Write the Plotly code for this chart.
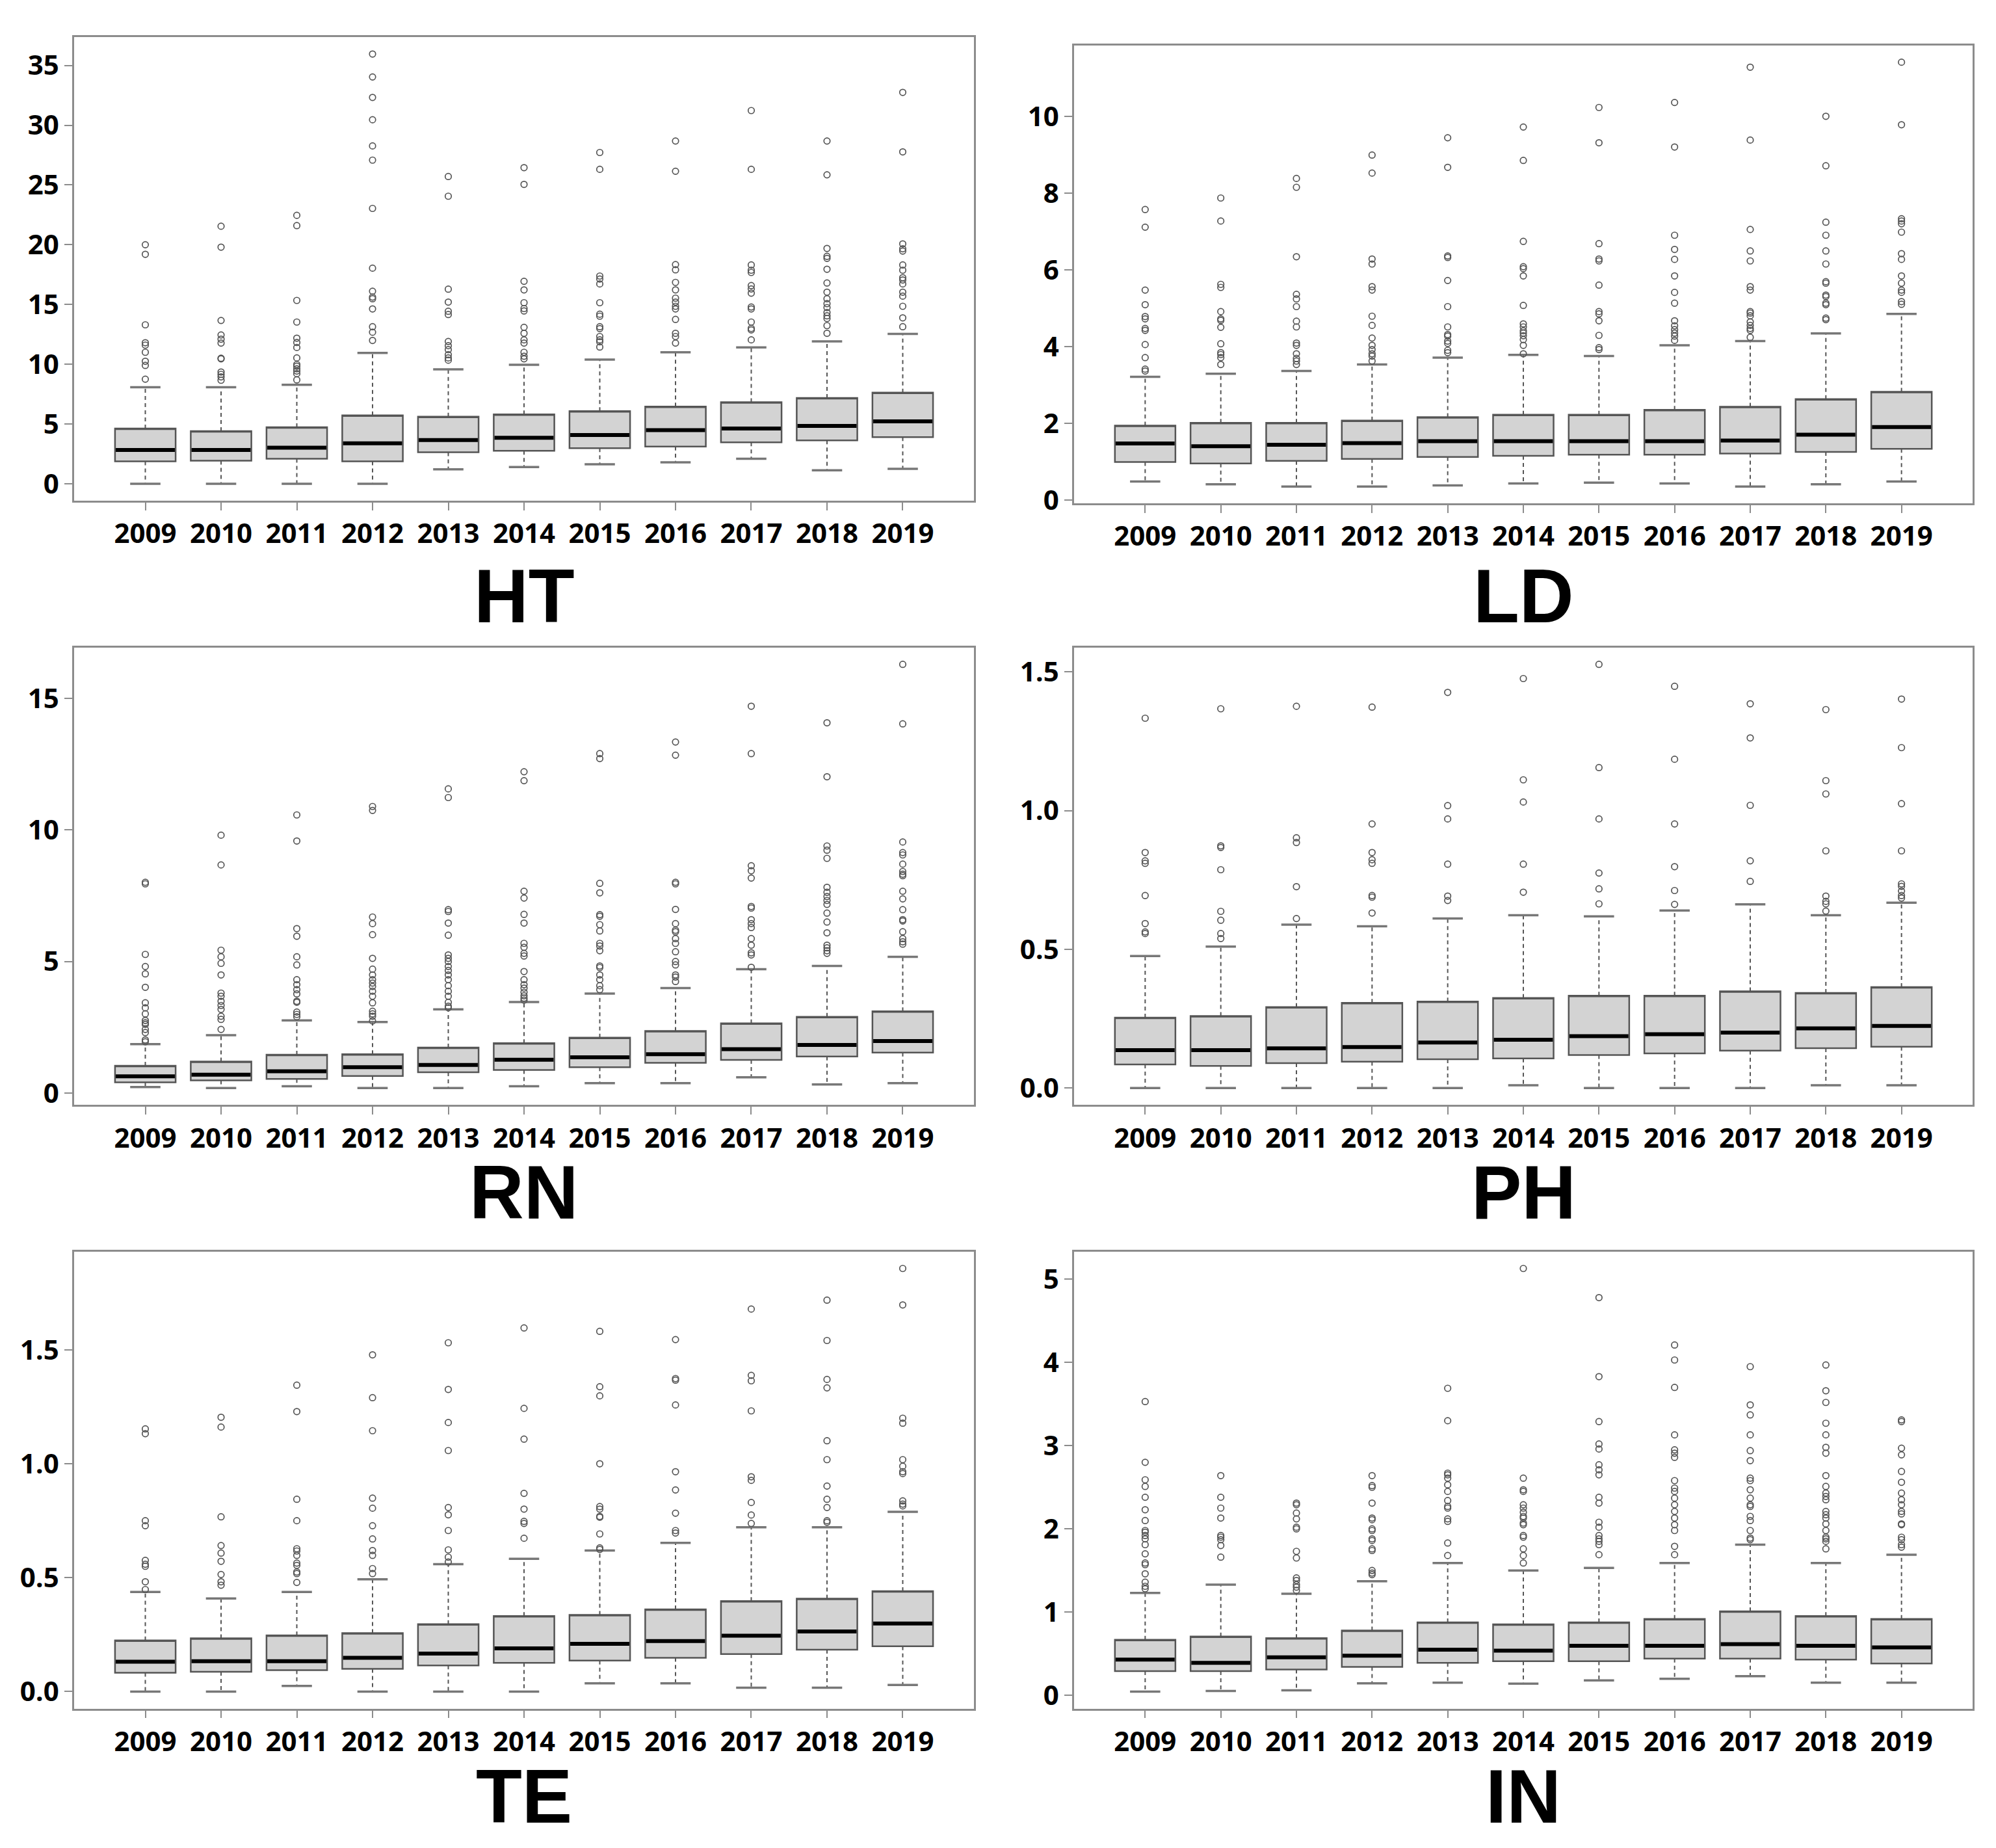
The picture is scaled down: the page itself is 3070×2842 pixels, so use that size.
import plotly.graph_objects as go

years = list(range(2009, 2020))

# ---------------- HT ----------------
ht_q1 = [1.87, 1.92, 2.09, 1.87, 2.64, 2.75, 2.97, 3.11, 3.46, 3.63, 3.90]
ht_med = [2.83, 2.83, 3.02, 3.38, 3.66, 3.85, 4.07, 4.48, 4.62, 4.84, 5.22]
ht_q3 = [4.62, 4.40, 4.73, 5.72, 5.61, 5.80, 6.08, 6.46, 6.82, 7.18, 7.62]
ht_lo = [0, 0, 0, 0, 1.21, 1.40, 1.62, 1.79, 2.09, 1.13, 1.24]
ht_hi = [8.08, 8.08, 8.28, 10.94, 9.57, 9.95, 10.39, 11.0, 11.41, 11.91, 12.54]
ht_out = [
    [20.0, 19.2, 13.3, 11.8, 11.6, 11.0, 10.25, 9.9, 8.75],
    [21.55, 19.8, 13.66, 12.45, 12.1, 11.77, 10.5, 10.45, 9.35, 9.15, 8.94, 8.66],
    [22.46, 21.6, 15.34, 13.53, 12.18, 11.82, 11.4, 10.53, 9.98, 9.84, 9.62, 9.43, 9.21, 8.69],
    [35.96, 34.04, 32.33, 30.46, 28.27, 27.08, 23.04, 18.04, 16.11, 15.62, 15.48, 14.63, 13.14, 12.68, 11.99],
    [25.71, 24.06, 16.28, 15.2, 14.43, 14.16, 11.9, 11.55, 11.22, 10.8, 10.53, 10.34],
    [26.45, 25.05, 16.94, 16.22, 15.15, 14.66, 14.46, 13.09, 12.59, 12.04, 11.77, 11.0, 10.67, 10.45],
    [27.72, 26.31, 17.38, 17.13, 16.72, 15.15, 14.19, 14.02, 13.14, 12.98, 12.32, 12.04, 11.88, 11.44],
    [28.68, 26.15, 18.34, 17.9, 16.85, 16.22, 15.53, 15.2, 14.85, 14.63, 13.75, 12.59, 12.32, 11.77],
    [31.23, 26.31, 18.31, 17.87, 17.68, 16.58, 16.3, 15.95, 14.79, 14.63, 13.53, 13.0, 12.87, 12.04],
    [28.68, 25.85, 19.69, 19.03, 18.86, 17.95, 16.8, 16.03, 15.48, 15.07, 14.74, 14.33, 14.05, 13.83, 13.23, 12.59],
    [32.75, 27.77, 20.07, 19.66, 19.47, 18.31, 17.87, 17.24, 17.05, 16.72, 16.03, 15.7, 14.85, 13.88, 13.14],
]

# ---------------- LD ----------------
ld_q1 = [0.99, 0.95, 1.02, 1.07, 1.12, 1.15, 1.18, 1.18, 1.21, 1.25, 1.33]
ld_med = [1.47, 1.40, 1.44, 1.48, 1.53, 1.53, 1.53, 1.53, 1.55, 1.70, 1.90]
ld_q3 = [1.94, 2.01, 2.01, 2.07, 2.16, 2.22, 2.22, 2.35, 2.43, 2.63, 2.82]
ld_lo = [0.48, 0.41, 0.35, 0.35, 0.38, 0.43, 0.45, 0.43, 0.35, 0.41, 0.48]
ld_hi = [3.21, 3.29, 3.36, 3.53, 3.71, 3.78, 3.75, 4.03, 4.14, 4.34, 4.85]
ld_out = [
    [7.57, 7.11, 5.47, 5.09, 4.78, 4.72, 4.47, 4.42, 4.05, 3.71, 3.41, 3.36],
    [7.87, 7.27, 5.62, 5.54, 4.91, 4.72, 4.68, 4.5, 4.07, 3.84, 3.79, 3.71, 3.53],
    [8.38, 8.15, 6.34, 5.36, 5.24, 5.04, 4.66, 4.51, 4.09, 4.03, 3.81, 3.69, 3.62, 3.53],
    [8.99, 8.52, 6.28, 6.15, 5.56, 5.47, 4.79, 4.55, 4.22, 4.03, 3.92, 3.81, 3.75, 3.62],
    [9.44, 8.67, 6.36, 6.32, 5.72, 5.04, 4.51, 4.31, 4.27, 4.14, 4.08, 3.9, 3.84],
    [9.72, 8.85, 6.74, 6.08, 6.03, 5.84, 5.07, 4.59, 4.51, 4.41, 4.35, 4.28, 4.18, 4.03, 3.81],
    [10.23, 9.31, 6.68, 6.28, 6.23, 5.6, 4.91, 4.85, 4.67, 4.29, 3.97, 3.92],
    [10.36, 9.2, 6.9, 6.53, 6.27, 5.84, 5.41, 5.13, 4.67, 4.54, 4.44, 4.35, 4.27, 4.16],
    [11.28, 9.38, 7.05, 6.49, 6.23, 5.56, 5.47, 4.91, 4.87, 4.8, 4.64, 4.55, 4.47, 4.42, 4.24],
    [10.0, 8.71, 7.24, 6.9, 6.49, 6.15, 5.69, 5.65, 5.34, 5.3, 5.13, 5.09, 4.74, 4.7],
    [11.41, 9.78, 7.33, 7.27, 7.2, 6.98, 6.42, 6.27, 5.84, 5.65, 5.47, 5.41, 5.17, 5.1],
]

# ---------------- RN ----------------
rn_q1 = [0.41, 0.48, 0.54, 0.65, 0.79, 0.88, 0.98, 1.15, 1.26, 1.39, 1.54]
rn_med = [0.64, 0.70, 0.83, 0.98, 1.07, 1.27, 1.36, 1.48, 1.67, 1.83, 1.98]
rn_q3 = [1.04, 1.20, 1.46, 1.48, 1.73, 1.90, 2.11, 2.36, 2.65, 2.90, 3.11]
rn_lo = [0.23, 0.19, 0.26, 0.19, 0.19, 0.26, 0.38, 0.38, 0.60, 0.33, 0.38]
rn_hi = [1.86, 2.20, 2.76, 2.70, 3.18, 3.46, 3.78, 3.99, 4.71, 4.83, 5.18]
rn_out = [
    [8.01, 7.95, 5.27, 4.81, 4.53, 4.02, 3.43, 3.24, 3.01, 2.76, 2.67, 2.61, 2.42, 2.3, 2.02, 1.95],
    [9.8, 8.67, 5.43, 5.18, 4.93, 4.49, 3.8, 3.68, 3.49, 3.33, 3.18, 2.92, 2.8, 2.42],
    [10.57, 9.58, 6.25, 5.96, 5.18, 4.87, 4.31, 4.12, 3.93, 3.77, 3.49, 3.45, 3.08, 2.99, 2.9],
    [10.89, 10.74, 6.69, 6.44, 6.02, 5.12, 4.71, 4.49, 4.31, 4.18, 4.05, 3.87, 3.68, 3.43, 3.11, 3.01, 2.92, 2.74],
    [11.56, 11.23, 6.97, 6.9, 6.46, 6.0, 5.25, 5.12, 5.0, 4.81, 4.66, 4.49, 4.31, 4.08, 3.87, 3.68, 3.45, 3.3, 3.24],
    [12.21, 11.87, 7.67, 7.41, 6.79, 6.46, 5.69, 5.54, 5.31, 5.21, 4.62, 4.31, 4.12, 3.99, 3.83, 3.7, 3.61, 3.53],
    [12.9, 12.71, 7.97, 7.61, 6.78, 6.72, 6.4, 6.16, 5.69, 5.59, 5.41, 4.83, 4.77, 4.49, 4.31, 4.08, 3.93],
    [13.34, 12.84, 8.01, 7.95, 6.98, 6.44, 6.19, 6.13, 5.87, 5.69, 5.37, 5.0, 4.87, 4.49, 4.41, 4.24],
    [14.7, 12.9, 8.64, 8.45, 8.17, 7.09, 7.03, 6.59, 6.44, 6.29, 5.87, 5.62, 5.33, 5.25, 4.78],
    [14.07, 12.02, 9.39, 9.23, 8.92, 7.82, 7.63, 7.47, 7.32, 7.17, 6.84, 6.5, 6.09, 5.62, 5.52, 5.41, 5.31],
    [16.29, 14.03, 9.54, 9.14, 9.05, 8.7, 8.42, 8.32, 8.26, 7.67, 7.38, 6.97, 6.59, 6.54, 6.13, 5.87, 5.75, 5.66],
]

# ---------------- PH ----------------
ph_q1 = [0.085, 0.080, 0.090, 0.095, 0.104, 0.107, 0.119, 0.125, 0.135, 0.144, 0.149]
ph_med = [0.137, 0.137, 0.143, 0.148, 0.164, 0.174, 0.187, 0.194, 0.200, 0.215, 0.224]
ph_q3 = [0.254, 0.260, 0.292, 0.307, 0.312, 0.325, 0.333, 0.333, 0.349, 0.343, 0.364]
ph_lo = [0, 0, 0, 0, 0, 0.01, 0, 0, 0, 0.01, 0.01]
ph_hi = [0.476, 0.510, 0.589, 0.583, 0.611, 0.623, 0.619, 0.640, 0.662, 0.623, 0.668]
ph_out = [
    [1.333, 0.849, 0.819, 0.81, 0.694, 0.593, 0.563, 0.557],
    [1.367, 0.873, 0.867, 0.787, 0.637, 0.605, 0.557, 0.539],
    [1.376, 0.902, 0.885, 0.726, 0.611],
    [1.373, 0.952, 0.849, 0.823, 0.81, 0.694, 0.688, 0.631],
    [1.426, 1.018, 0.970, 0.807, 0.692, 0.676],
    [1.476, 1.111, 1.031, 0.807, 0.706],
    [1.527, 1.155, 0.970, 0.775, 0.718, 0.664],
    [1.448, 1.185, 0.952, 0.798, 0.712, 0.662],
    [1.385, 1.262, 1.019, 0.819, 0.745],
    [1.364, 1.108, 1.06, 0.855, 0.692, 0.673, 0.664, 0.638],
    [1.402, 1.227, 1.025, 0.855, 0.736, 0.727, 0.71, 0.694, 0.685],
]

# ---------------- TE ----------------
te_q1 = [0.083, 0.087, 0.094, 0.100, 0.115, 0.126, 0.136, 0.148, 0.165, 0.184, 0.199]
te_med = [0.131, 0.133, 0.133, 0.148, 0.167, 0.190, 0.210, 0.222, 0.245, 0.264, 0.299]
te_q3 = [0.225, 0.234, 0.247, 0.257, 0.296, 0.332, 0.337, 0.361, 0.397, 0.408, 0.441]
te_lo = [0, 0, 0.025, 0, 0, 0, 0.036, 0.036, 0.017, 0.017, 0.029]
te_hi = [0.437, 0.409, 0.437, 0.493, 0.559, 0.583, 0.619, 0.653, 0.721, 0.721, 0.789]
te_out = [
    [1.153, 1.132, 0.75, 0.728, 0.576, 0.559, 0.55, 0.482, 0.448],
    [1.204, 1.161, 0.767, 0.641, 0.608, 0.572, 0.514, 0.482, 0.467],
    [1.345, 1.229, 0.844, 0.75, 0.627, 0.617, 0.598, 0.564, 0.554, 0.525, 0.518, 0.479],
    [1.478, 1.29, 1.145, 0.849, 0.805, 0.728, 0.67, 0.619, 0.598, 0.54, 0.518],
    [1.531, 1.326, 1.181, 1.058, 0.808, 0.776, 0.707, 0.622, 0.59, 0.569],
    [1.596, 1.243, 1.108, 0.87, 0.801, 0.747, 0.738, 0.673],
    [1.581, 1.338, 1.298, 1.0, 0.812, 0.801, 0.769, 0.765, 0.692, 0.631, 0.624],
    [1.545, 1.374, 1.367, 1.258, 0.965, 0.885, 0.783, 0.707, 0.696],
    [1.679, 1.388, 1.364, 1.232, 0.943, 0.927, 0.83, 0.775, 0.738],
    [1.718, 1.541, 1.37, 1.333, 1.101, 1.018, 0.902, 0.844, 0.808, 0.75, 0.743],
    [1.857, 1.697, 1.2, 1.178, 1.018, 0.989, 0.965, 0.957, 0.837, 0.823, 0.815],
]

# ---------------- IN ----------------
in_q1 = [0.29, 0.29, 0.31, 0.341, 0.389, 0.409, 0.409, 0.44, 0.44, 0.429, 0.381]
in_med = [0.429, 0.389, 0.456, 0.476, 0.548, 0.536, 0.595, 0.595, 0.615, 0.595, 0.575]
in_q3 = [0.667, 0.706, 0.687, 0.778, 0.877, 0.853, 0.877, 0.917, 1.01, 0.952, 0.917]
in_lo = [0.044, 0.052, 0.06, 0.143, 0.151, 0.139, 0.179, 0.198, 0.23, 0.151, 0.151]
in_hi = [1.23, 1.33, 1.22, 1.37, 1.59, 1.50, 1.53, 1.59, 1.81, 1.59, 1.69]
in_out = [
    [3.53, 2.8, 2.59, 2.51, 2.38, 2.23, 2.1, 1.98, 1.96, 1.92, 1.88, 1.81, 1.7, 1.59, 1.57, 1.46, 1.36, 1.31, 1.28],
    [2.64, 2.38, 2.25, 2.13, 1.92, 1.9, 1.87, 1.8, 1.66],
    [2.31, 2.29, 2.19, 2.12, 2.02, 2.0, 1.73, 1.65, 1.41, 1.38, 1.33, 1.3, 1.26],
    [2.64, 2.52, 2.5, 2.31, 2.13, 2.11, 2.0, 1.98, 1.88, 1.86, 1.76, 1.74, 1.5, 1.47, 1.45],
    [3.69, 3.3, 2.67, 2.65, 2.61, 2.53, 2.45, 2.34, 2.27, 2.25, 2.12, 2.09, 1.83, 1.68],
    [5.13, 2.61, 2.47, 2.45, 2.29, 2.25, 2.2, 2.15, 2.13, 2.07, 2.05, 1.92, 1.9, 1.76, 1.68, 1.59],
    [4.78, 3.83, 3.29, 3.02, 2.96, 2.77, 2.71, 2.65, 2.38, 2.31, 2.08, 2.02, 1.92, 1.88, 1.85, 1.81, 1.69],
    [4.21, 4.03, 3.7, 3.13, 2.95, 2.91, 2.86, 2.58, 2.49, 2.45, 2.37, 2.29, 2.21, 2.13, 2.05, 1.98, 1.79, 1.69],
    [3.95, 3.49, 3.37, 3.13, 2.94, 2.82, 2.61, 2.58, 2.47, 2.37, 2.29, 2.27, 2.15, 2.1, 1.98, 1.89, 1.87],
    [3.97, 3.66, 3.52, 3.27, 3.13, 2.98, 2.91, 2.64, 2.51, 2.43, 2.39, 2.35, 2.21, 2.17, 2.13, 2.06, 1.98, 1.9, 1.88, 1.85, 1.76],
    [3.31, 3.29, 2.97, 2.89, 2.69, 2.56, 2.43, 2.35, 2.29, 2.21, 2.18, 2.06, 2.05, 1.9, 1.87, 1.81, 1.78],
]

panel_names = ["HT", "LD", "RN", "PH", "TE", "IN"]
panel_ticks = [
    [0, 5, 10, 15, 20, 25, 30, 35],
    [0, 2, 4, 6, 8, 10],
    [0, 5, 10, 15],
    [0.0, 0.5, 1.0, 1.5],
    [0.0, 0.5, 1.0, 1.5],
    [0, 1, 2, 3, 4, 5],
]
panel_tickfmt = ["d", "d", "d", ".1f", ".1f", "d"]
panels = [
    (ht_q1, ht_med, ht_q3, ht_lo, ht_hi, ht_out),
    (ld_q1, ld_med, ld_q3, ld_lo, ld_hi, ld_out),
    (rn_q1, rn_med, rn_q3, rn_lo, rn_hi, rn_out),
    (ph_q1, ph_med, ph_q3, ph_lo, ph_hi, ph_out),
    (te_q1, te_med, te_q3, te_lo, te_hi, te_out),
    (in_q1, in_med, in_q3, in_lo, in_hi, in_out),
]

# ---------------- layout geometry (pixels of a 3070 x 2842 page) ----------------
W, H = 3070, 2842
col_px = [(106, 1490), (1644, 3026)]
row_px = [[(49, 768), (62, 772)], [(995, 1704), (995, 1704)], [(1931, 2639), (1931, 2639)]]
title_px = [916, 1840, 2776]

BOX_W = 0.8
CAP_W = 0.4
BOX_LINE = "#555555"
FILL = "#d3d3d3"
FRAME = "#8c8c8c"
TICKFONT = dict(family="Open Sans, Liberation Sans, Arial", size=42, color="black", weight="bold")
TITLEFONT = dict(family="Liberation Sans, Arial", size=116, color="black", weight="bold")

fig = go.Figure()
layout_axes = {}
annotations = []

for i, (name, data) in enumerate(zip(panel_names, panels)):
    q1, med, q3, lo, hi, out = data
    r, c = divmod(i, 2)
    n = i + 1
    xa = "x" if n == 1 else f"x{n}"
    ya = "y" if n == 1 else f"y{n}"

    # box bodies
    fig.add_trace(go.Box(
        x=years, q1=q1, median=q3, q3=q3, lowerfence=q1, upperfence=q3,
        width=BOX_W, fillcolor=FILL, line=dict(color=BOX_LINE, width=2.5),
        boxpoints=False, hoverinfo="skip", showlegend=False, xaxis=xa, yaxis=ya,
    ))
    # whiskers (dashed)
    wx, wy = [], []
    for yr, a, b, l, h in zip(years, q1, q3, lo, hi):
        wx += [yr, yr, None, yr, yr, None]
        wy += [b, h, None, a, l, None]
    fig.add_trace(go.Scatter(
        x=wx, y=wy, mode="lines", line=dict(color=BOX_LINE, width=2, dash="6px,5px"),
        hoverinfo="skip", showlegend=False, xaxis=xa, yaxis=ya,
    ))
    # staples
    sx, sy = [], []
    for yr, l, h in zip(years, lo, hi):
        sx += [yr - CAP_W / 2, yr + CAP_W / 2, None, yr - CAP_W / 2, yr + CAP_W / 2, None]
        sy += [h, h, None, l, l, None]
    fig.add_trace(go.Scatter(
        x=sx, y=sy, mode="lines", line=dict(color="#777777", width=3.5),
        hoverinfo="skip", showlegend=False, xaxis=xa, yaxis=ya,
    ))
    # medians
    mx, my = [], []
    for yr, m in zip(years, med):
        mx += [yr - BOX_W / 2 + 0.01, yr + BOX_W / 2 - 0.01, None]
        my += [m, m, None]
    fig.add_trace(go.Scatter(
        x=mx, y=my, mode="lines", line=dict(color="black", width=6),
        hoverinfo="skip", showlegend=False, xaxis=xa, yaxis=ya,
    ))
    # outliers
    ox, oy = [], []
    for yr, pts in zip(years, out):
        ox += [yr] * len(pts)
        oy += pts
    fig.add_trace(go.Scatter(
        x=ox, y=oy, mode="markers",
        marker=dict(symbol="circle-open", size=9.5, color="#555555", line=dict(width=1.7, color="#555555")),
        hoverinfo="skip", showlegend=False, xaxis=xa, yaxis=ya,
    ))

    allv = list(lo) + list(hi) + [v for pts in out for v in pts]
    vmin, vmax = min(allv), max(allv)
    pad = 0.04 * (vmax - vmin)

    x0, x1 = col_px[c]
    t0, t1 = row_px[r][c]
    axis_common = dict(
        showline=True, mirror=True, linecolor=FRAME, linewidth=2.5,
        ticks="outside", ticklen=12, tickwidth=2, tickcolor=FRAME,
        showgrid=False, zeroline=False, tickfont=TICKFONT,
    )
    layout_axes["xaxis" if n == 1 else f"xaxis{n}"] = dict(
        domain=[x0 / W, x1 / W], anchor=ya, range=[2009 - 0.94, 2019 + 0.94],
        tickmode="array", tickvals=years, ticktext=[str(y) for y in years], **axis_common,
    )
    layout_axes["yaxis" if n == 1 else f"yaxis{n}"] = dict(
        domain=[1 - t1 / H, 1 - t0 / H], anchor=xa, range=[vmin - pad, vmax + pad],
        tickmode="array", tickvals=panel_ticks[i], tickformat=panel_tickfmt[i], **axis_common,
    )
    annotations.append(dict(
        text=name, xref=xa, x=2014, yref="paper", y=1 - title_px[r] / H,
        xanchor="center", yanchor="middle", showarrow=False, font=TITLEFONT,
        borderpad=0,
    ))

fig.update_layout(
    width=W, height=H, autosize=False,
    margin=dict(l=0, r=0, t=0, b=0),
    paper_bgcolor="white", plot_bgcolor="white",
    annotations=annotations, **layout_axes,
)
fig.write_html("out.html")
